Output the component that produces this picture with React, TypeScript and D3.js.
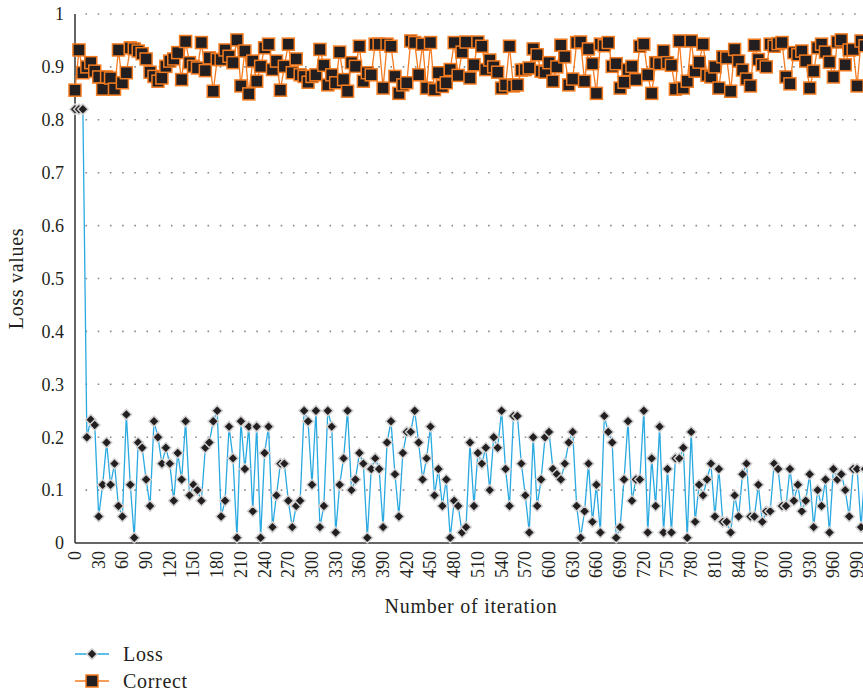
import React, { useEffect, useRef } from "react";
import * as d3 from "d3";

const width = 863;
const height = 693;

// iteration step between recorded points
const step = 5;

const lossValues = [
  0.82, 0.82, 0.82, 0.2, 0.233, 0.223, 0.05, 0.11, 0.19, 0.11,
  0.15, 0.07, 0.05, 0.243, 0.11, 0.01, 0.19, 0.18, 0.12, 0.07,
  0.23, 0.2, 0.15, 0.18, 0.15, 0.08, 0.17, 0.12, 0.23, 0.09,
  0.11, 0.1, 0.08, 0.18, 0.19, 0.23, 0.25, 0.05, 0.08, 0.22,
  0.16, 0.01, 0.23, 0.14, 0.22, 0.06, 0.22, 0.01, 0.17, 0.22,
  0.03, 0.09, 0.15, 0.15, 0.08, 0.03, 0.07, 0.08, 0.25, 0.23,
  0.11, 0.25, 0.03, 0.07, 0.25, 0.22, 0.02, 0.11, 0.16, 0.25,
  0.1, 0.12, 0.17, 0.15, 0.01, 0.14, 0.16, 0.14, 0.03, 0.19,
  0.23, 0.13, 0.05, 0.17, 0.21, 0.21, 0.25, 0.19, 0.12, 0.16,
  0.22, 0.09, 0.14, 0.07, 0.12, 0.01, 0.08, 0.07, 0.02, 0.03,
  0.19, 0.07, 0.17, 0.15, 0.18, 0.1, 0.2, 0.18, 0.25, 0.14,
  0.07, 0.24, 0.24, 0.15, 0.09, 0.02, 0.2, 0.07, 0.12, 0.2,
  0.21, 0.14, 0.13, 0.12, 0.15, 0.19, 0.21, 0.07, 0.01, 0.06,
  0.15, 0.04, 0.11, 0.02, 0.24, 0.21, 0.19, 0.01, 0.03, 0.12,
  0.23, 0.08, 0.12, 0.12, 0.25, 0.02, 0.16, 0.07, 0.22, 0.02,
  0.14, 0.02, 0.16, 0.16, 0.18, 0.01, 0.21, 0.04, 0.11, 0.09,
  0.12, 0.15, 0.05, 0.14, 0.04, 0.04, 0.02, 0.09, 0.05, 0.13,
  0.15, 0.05, 0.05, 0.11, 0.04, 0.06, 0.06, 0.15, 0.14, 0.07,
  0.07, 0.14, 0.08, 0.11, 0.06, 0.08, 0.13, 0.03, 0.1, 0.07,
  0.12, 0.02, 0.14, 0.12, 0.13, 0.1, 0.05, 0.14, 0.14, 0.03,
  0.14,
];

const correctValues = [
  0.856, 0.932, 0.889, 0.9, 0.908, 0.892, 0.881, 0.858, 0.881, 0.879,
  0.858, 0.932, 0.87, 0.889, 0.936, 0.934, 0.93, 0.925, 0.915, 0.89,
  0.882, 0.873, 0.879, 0.901, 0.911, 0.915, 0.927, 0.876, 0.948, 0.908,
  0.901, 0.898, 0.946, 0.893, 0.917, 0.854, 0.914, 0.914, 0.932, 0.92,
  0.908, 0.951, 0.864, 0.93, 0.849, 0.911, 0.873, 0.901, 0.936, 0.943,
  0.895, 0.911, 0.856, 0.901, 0.943, 0.889, 0.915, 0.885, 0.882, 0.871,
  0.882, 0.885, 0.933, 0.903, 0.866, 0.885, 0.87, 0.928, 0.876, 0.854,
  0.908, 0.901, 0.939, 0.873, 0.889, 0.885, 0.943, 0.943, 0.86, 0.943,
  0.939, 0.882, 0.85, 0.866, 0.87, 0.949, 0.946, 0.885, 0.943, 0.86,
  0.946, 0.857, 0.889, 0.863, 0.87, 0.895, 0.946, 0.884, 0.928, 0.947,
  0.879, 0.904, 0.947, 0.939, 0.895, 0.913, 0.9, 0.89, 0.86, 0.866,
  0.939, 0.864, 0.866, 0.894, 0.895, 0.898, 0.934, 0.923, 0.892, 0.89,
  0.908, 0.873, 0.9, 0.941, 0.919, 0.866, 0.877, 0.946, 0.947, 0.873,
  0.934, 0.906, 0.85, 0.943, 0.94, 0.946, 0.901, 0.906, 0.86, 0.871,
  0.895, 0.901, 0.876, 0.939, 0.943, 0.885, 0.85, 0.908, 0.906, 0.93,
  0.908, 0.903, 0.858, 0.949, 0.86, 0.873, 0.949, 0.892, 0.909, 0.943,
  0.884, 0.881, 0.9, 0.86, 0.919, 0.917, 0.854, 0.933, 0.911, 0.894,
  0.877, 0.864, 0.941, 0.914, 0.904, 0.9, 0.943, 0.939, 0.944, 0.946,
  0.881, 0.868, 0.927, 0.923, 0.93, 0.911, 0.86, 0.892, 0.936, 0.943,
  0.928, 0.909, 0.881, 0.947, 0.951, 0.904, 0.932, 0.933, 0.864, 0.949,
  0.94,
];

const yTicks = [0, 0.1, 0.2, 0.3, 0.4, 0.5, 0.6, 0.7, 0.8, 0.9, 1];
const xTicks = d3.range(0, 991, 30);

const seriesNames = ["Loss", "Correct"];

const font = "'Liberation Serif', 'Times New Roman', serif";
const blue = "#29a9e1";
const orange = "#f47b20";
const dark = "#231f20";

const LossChart = () => {
  const ref = useRef<SVGSVGElement>(null);

  useEffect(() => {
    const svg = d3.select(ref.current);
    svg.selectAll("*").remove();

    const x = d3.scaleLinear().domain([0, 1000]).range([75, 865]);
    const y = d3.scaleLinear().domain([0, 1]).range([543, 14]);

    // dotted grid
    svg
      .append("g")
      .selectAll("line")
      .data(yTicks.filter((d) => d > 0))
      .join("line")
      .attr("x1", 75)
      .attr("x2", width)
      .attr("y1", (d) => y(d))
      .attr("y2", (d) => y(d))
      .attr("stroke", "#8a8a8a")
      .attr("stroke-width", 1.6)
      .attr("stroke-dasharray", "1.6 10.6")
      .attr("stroke-dashoffset", -10.5);

    // axes lines
    svg
      .append("line")
      .attr("x1", 75)
      .attr("x2", 75)
      .attr("y1", y(1))
      .attr("y2", y(0))
      .attr("stroke", "#333")
      .attr("stroke-width", 1.5);
    svg
      .append("line")
      .attr("x1", 75)
      .attr("x2", width)
      .attr("y1", y(0))
      .attr("y2", y(0))
      .attr("stroke", "#333")
      .attr("stroke-width", 1.5);

    // y tick labels
    svg
      .append("g")
      .selectAll("text")
      .data(yTicks)
      .join("text")
      .attr("x", 64)
      .attr("y", (d) => y(d))
      .attr("dy", "0.35em")
      .attr("text-anchor", "end")
      .attr("font-family", font)
      .attr("font-size", 18)
      .attr("fill", dark)
      .text((d) => String(+d.toFixed(1)));

    // x tick labels
    svg
      .append("g")
      .selectAll("text")
      .data(xTicks)
      .join("text")
      .attr(
        "transform",
        (d) => `translate(${x(d)},${y(0) + 8}) rotate(-90)`
      )
      .attr("dy", "0.33em")
      .attr("text-anchor", "end")
      .attr("font-family", font)
      .attr("font-size", 18)
      .attr("fill", dark)
      .text((d) => d);

    // axis titles
    svg
      .append("text")
      .attr("transform", `translate(23,${(y(0) + y(1)) / 2}) rotate(-90)`)
      .attr("text-anchor", "middle")
      .attr("font-family", font)
      .attr("font-size", 20)
      .attr("letter-spacing", 0.7)
      .attr("fill", dark)
      .text("Loss values");

    svg
      .append("text")
      .attr("x", 471)
      .attr("y", 613)
      .attr("text-anchor", "middle")
      .attr("font-family", font)
      .attr("font-size", 20)
      .attr("letter-spacing", 0.75)
      .attr("fill", dark)
      .text("Number of iteration");

    const line = d3
      .line<number>()
      .x((d, i) => x(i * step))
      .y((d) => y(d));

    const diamond = d3.symbol().type(d3.symbolDiamond2).size(70);

    // loss series
    svg
      .append("path")
      .datum(lossValues)
      .attr("fill", "none")
      .attr("stroke", blue)
      .attr("stroke-width", 1.3)
      .attr("d", line);

    svg
      .append("g")
      .selectAll("path")
      .data(lossValues)
      .join("path")
      .attr("transform", (d, i) => `translate(${x(i * step)},${y(d)})`)
      .attr("d", diamond)
      .attr("fill", dark)
      .attr("stroke", "#d0d0d0")
      .attr("stroke-width", 1.5);

    // correct series
    svg
      .append("path")
      .datum(correctValues)
      .attr("fill", "none")
      .attr("stroke", orange)
      .attr("stroke-width", 1.3)
      .attr("d", line);

    svg
      .append("g")
      .selectAll("rect")
      .data(correctValues)
      .join("rect")
      .attr("x", (d, i) => x(i * step) - 6)
      .attr("y", (d) => y(d) - 6)
      .attr("width", 12)
      .attr("height", 12)
      .attr("fill", dark)
      .attr("stroke", orange)
      .attr("stroke-width", 1.5);

    // legend
    const legend = svg
      .append("g")
      .selectAll("g")
      .data(seriesNames)
      .join("g")
      .attr("transform", (d, i) => `translate(75,${654 + i * 27})`);

    legend
      .append("line")
      .attr("x1", 0)
      .attr("x2", 34)
      .attr("stroke", (d, i) => (i === 0 ? blue : orange))
      .attr("stroke-width", 1.3);

    legend
      .filter((d, i) => i === 0)
      .append("path")
      .attr("transform", "translate(17,0)")
      .attr("d", diamond)
      .attr("fill", dark)
      .attr("stroke", "#d0d0d0")
      .attr("stroke-width", 1.5);

    legend
      .filter((d, i) => i === 1)
      .append("rect")
      .attr("x", 11)
      .attr("y", -6)
      .attr("width", 12)
      .attr("height", 12)
      .attr("fill", dark)
      .attr("stroke", orange)
      .attr("stroke-width", 1.5);

    legend
      .append("text")
      .attr("x", 48)
      .attr("dy", "0.35em")
      .attr("font-family", font)
      .attr("font-size", 20)
      .attr("letter-spacing", 0.7)
      .attr("fill", dark)
      .text((d) => d);
  }, []);

  return (
    <svg
      ref={ref}
      width={width}
      height={height}
      style={{ position: "absolute", left: 0, top: 0, background: "#fff" }}
    ></svg>
  );
};

export default function App() {
  return <LossChart />;
}
